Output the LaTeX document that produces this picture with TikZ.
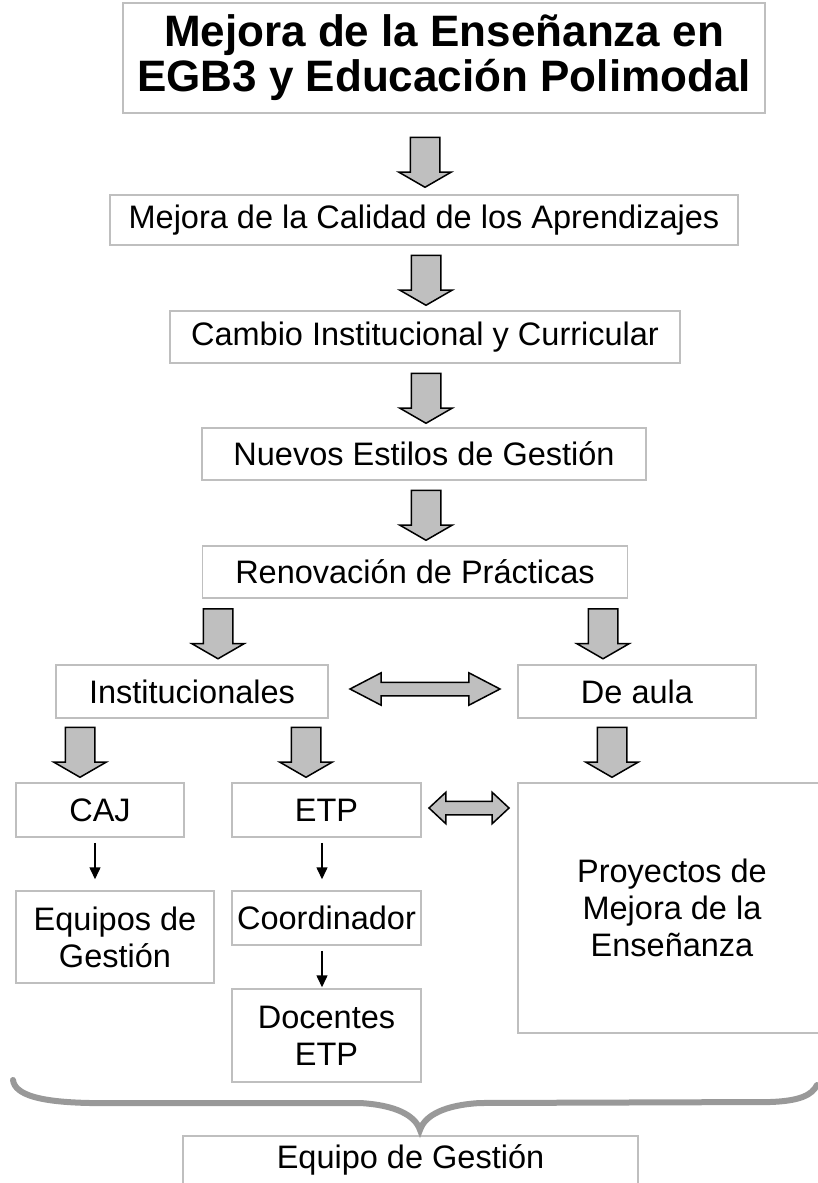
\documentclass[tikz,border=0pt]{standalone}
\usepackage{fontspec}
\setmainfont{Liberation Sans}
\usetikzlibrary{shapes.arrows,arrows.meta}

\tikzset{
  box/.style={draw=black!25, line width=1.5pt, inner sep=0pt, align=center},
  blockdown/.style={single arrow, draw=black, fill=black!25, line width=1.5pt,
    rotate=-90, inner xsep=0pt, inner ysep=14pt, minimum height=50pt,
    single arrow head extend=11.5pt, single arrow tip angle=120},
  blockboth/.style={double arrow, draw=black, fill=black!25, line width=1.5pt,
    inner xsep=0pt, inner ysep=6pt},
  thinarrow/.style={line width=1.5pt, -{Triangle[length=12pt,width=11pt]}},
  bracestyle/.style={draw=black!40, line width=6pt, line cap=round}
}

\begin{document}
\begin{tikzpicture}[x=1pt, y=-1pt, font=\fontsize{32.5}{37}\selectfont]
  \useasboundingbox (0,0) rectangle (818,1183);
  \clip (0,0) rectangle (818,1183);

  \node[box, minimum width=642pt, minimum height=110pt,
    font=\fontsize{44}{45}\selectfont\bfseries] (title) at (444,58)
    {Mejora de la Enseñanza en\\EGB3 y Educación Polimodal};
  \node[box, minimum width=628pt, minimum height=50pt] (calidad) at (424,220)
    {Mejora de la Calidad de los Aprendizajes};
  \node[box, minimum width=510pt, minimum height=52pt] (cambio) at (425,337)
    {Cambio Institucional y Curricular};
  \node[box, minimum width=444pt, minimum height=52pt] (estilos) at (424,454)
    {Nuevos Estilos de Gestión};
  \node[box, minimum width=425pt, minimum height=52pt] (renov) at (415,572)
    {Renovación de Prácticas};

  \node[box, minimum width=272pt, minimum height=53pt] (inst) at (192,691.5)
    {Institucionales};
  \node[box, minimum width=238pt, minimum height=53pt] (aula) at (637,691.5)
    {De aula};

  \node[box, minimum width=168pt, minimum height=54pt] (caj) at (100,810) {CAJ};
  \node[box, minimum width=189pt, minimum height=54pt] (etp) at (326.5,810) {ETP};
  \node[box, minimum width=308pt, minimum height=250pt] (proy) at (672,908)
    {Proyectos de\\Mejora de la\\Enseñanza};

  \node[box, minimum width=198pt, minimum height=92pt] (equipos) at (115,937)
    {Equipos de\\Gestión};
  \node[box, minimum width=189pt, minimum height=54pt] (coord) at (326.5,918)
    {Coordinador};
  \node[box, minimum width=189pt, minimum height=93pt] (docentes) at (326.5,1035.5)
    {Docentes\\ETP};

  \node[box, minimum width=455pt, text height=33pt, text depth=30pt, anchor=north]
    (gestion) at (410.5,1135) {Equipo de Gestión};

  % block arrows
  \node[blockdown] (a1) at (425,158) {};
  \node[blockdown] (a2) at (426,276) {};
  \node[blockdown] (a3) at (426,394) {};
  \node[blockdown] (a4) at (426,511) {};
  \node[blockdown] (a5) at (218,629.5) {};
  \node[blockdown] (a6) at (603,629.5) {};
  \node[blockdown] (a7) at (80,748) {};
  \node[blockdown] (a8) at (306,748) {};
  \node[blockdown] (a9) at (612,748) {};

  \node[blockboth, minimum height=150pt,
    double arrow head extend=9.5pt, double arrow tip angle=55] (d1) at (425,689) {};
  \node[blockboth, minimum height=80pt,
    double arrow head extend=9pt, double arrow tip angle=86] (d2) at (469,808) {};

  \draw[thinarrow, shorten <=5pt, shorten >=11pt] ([xshift=-5pt]caj.south) -- ([xshift=-5pt]caj.south |- equipos.north);
  \draw[thinarrow, shorten <=5pt, shorten >=11pt] ([xshift=-4.5pt]etp.south) -- ([xshift=-4.5pt]coord.north);
  \draw[thinarrow, shorten <=5pt, shorten >=1pt] ([xshift=-4.5pt]coord.south) -- ([xshift=-4.5pt]docentes.north);

  % brace
  \path[bracestyle] (13,1080) .. controls (15,1095) and (40,1102) .. (90,1103)
    -- (360,1103) .. controls (395,1105) and (415,1115) .. (420,1130)
    .. controls (425,1115) and (445,1105) .. (480,1103)
    -- (770,1102) .. controls (800,1101) and (812,1095) .. (817,1085);
\end{tikzpicture}
\end{document}
